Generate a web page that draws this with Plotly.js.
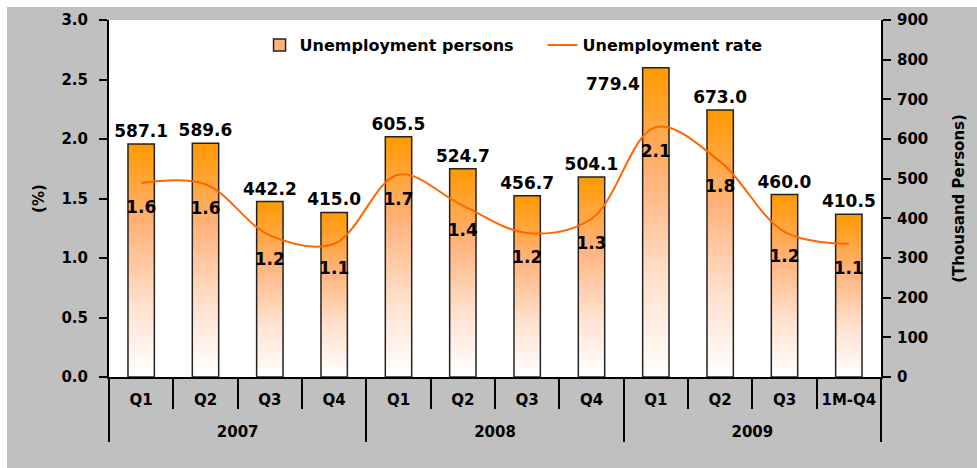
<!DOCTYPE html>
<html>
<head>
<meta charset="utf-8">
<script src="https://cdn.plot.ly/plotly-3.0.1.min.js"></script>
<style>
  html, body { margin: 0; padding: 0; background: #ffffff; }
  #chart { position: absolute; left: 7px; top: 7px; width: 970px; height: 461px; }
</style>
</head>
<body>
<svg width="0" height="0" style="position:absolute">
  <defs>
    <linearGradient id="barGrad" x1="0" y1="0" x2="0" y2="1">
      <stop offset="0" stop-color="#ff9900"/>
      <stop offset="0.35" stop-color="#ffb27a"/>
      <stop offset="0.7" stop-color="#ffe2d0"/>
      <stop offset="1" stop-color="#ffffff"/>
    </linearGradient>
  </defs>
</svg>
<div id="chart"></div>
<script>
const years = ['2007','2007','2007','2007','2008','2008','2008','2008','2009','2009','2009','2009'];
const quarters = ['Q1','Q2','Q3','Q4','Q1','Q2','Q3','Q4','Q1','Q2','Q3','1M-Q4'];
const unemployedPersons = [587.1, 589.6, 442.2, 415.0, 605.5, 524.7, 456.7, 504.1, 779.4, 673.0, 460.0, 410.5];
const unemploymentRate = [1.63, 1.62, 1.19, 1.12, 1.70, 1.44, 1.21, 1.33, 2.10, 1.81, 1.22, 1.12];

const FONT = 'DejaVu Sans, Verdana, sans-serif';
const boldFont = (size) => ({ family: FONT, size: size, color: '#000000', weight: 'bold' });

// year labels get an empty first line so that the year row sits lower, as in the reference
const yearTicks = years.map(y => '<br>' + y);

// the tallest bar's label sits beside the bar (as in the reference) so it clears the legend
const peakIndex = unemployedPersons.indexOf(Math.max(...unemployedPersons));
const barTextPos = unemployedPersons.map((v, i) => i === peakIndex ? 'none' : 'outside');

const traces = [
  {
    type: 'bar',
    name: 'Unemployment persons',
    x: [yearTicks, quarters],
    y: unemployedPersons,
    yaxis: 'y',
    width: 0.41,
    marker: { color: '#ffb27a', line: { color: '#222222', width: 1.5 } },
    texttemplate: '%{y:.1f}',
    textposition: barTextPos,
    constraintext: 'none',
    textfont: boldFont(17),
    cliponaxis: false,
    hoverinfo: 'skip'
  },
  {
    type: 'scatter',
    name: 'Unemployment rate',
    x: [yearTicks, quarters],
    y: unemploymentRate,
    yaxis: 'y2',
    mode: 'lines+markers+text',
    line: { color: '#ff6600', width: 2, shape: 'spline', smoothing: 1 },
    marker: { size: 26, color: 'rgba(0,0,0,0)' },
    texttemplate: '%{y:.1f}',
    textposition: 'bottom center',
    textfont: boldFont(17),
    cliponaxis: false,
    hoverinfo: 'skip'
  }
];

const layout = {
  width: 970,
  height: 461,
  paper_bgcolor: '#c0c0c0',
  plot_bgcolor: '#ffffff',
  margin: { l: 102, r: 96, t: 13, b: 91 },
  showlegend: true,
  legend: {
    orientation: 'h',
    x: 0.195, xanchor: 'left',
    y: 0.977, yanchor: 'top',
    bgcolor: 'rgba(0,0,0,0)',
    font: boldFont(16),
    entrywidth: 238,
    entrywidthmode: 'pixels'
  },
  annotations: [{
    xref: 'x', yref: 'y',
    x: peakIndex, y: unemployedPersons[peakIndex],
    text: unemployedPersons[peakIndex].toFixed(1),
    showarrow: false,
    xanchor: 'right', yanchor: 'middle',
    xshift: -14, yshift: -16,
    font: boldFont(17)
  }],
  bargap: 0.59,
  xaxis: {
    type: 'multicategory',
    range: [-0.5, 11.5],
    autorange: false,
    showline: true, linecolor: '#000000', linewidth: 2,
    ticks: 'outside', tickson: 'boundaries', ticklen: 30, tickwidth: 2, tickcolor: '#000000',
    tickangle: 0,
    ticklabelstandoff: 8,
    showdividers: true, dividercolor: '#000000', dividerwidth: 2,
    tickfont: boldFont(15),
    showgrid: false,
    zeroline: false
  },
  yaxis: {
    side: 'right',
    range: [0, 900],
    dtick: 100,
    tickformat: 'd',
    showline: true, linecolor: '#000000', linewidth: 2,
    ticks: 'outside', ticklen: 8, tickwidth: 2, tickcolor: '#000000',
    ticklabelstandoff: 3,
    tickfont: boldFont(15),
    showgrid: false, zeroline: false,
    title: { text: '(Thousand Persons)', font: boldFont(15), standoff: 26 }
  },
  yaxis2: {
    overlaying: 'y',
    side: 'left',
    range: [0, 3],
    dtick: 0.5,
    tickformat: '.1f',
    showline: true, linecolor: '#000000', linewidth: 2,
    ticks: 'outside', ticklen: 8, tickwidth: 2, tickcolor: '#000000',
    ticklabelstandoff: 8,
    tickfont: boldFont(15),
    showgrid: false, zeroline: false,
    title: { text: '(%)', font: boldFont(15), standoff: 13 }
  }
};

function applyGradient() {
  const gd = document.getElementById('chart');
  gd.querySelectorAll('.barlayer .point path').forEach(p => { p.style.fill = 'url(#barGrad)'; p.style.fillOpacity = 1; });
  gd.querySelectorAll('.legend path.legendbar').forEach(p => { p.style.fill = 'url(#barGrad)'; });
}

Plotly.newPlot('chart', traces, layout, { staticPlot: true, displayModeBar: false }).then(gd => {
  applyGradient();
  gd.on('plotly_afterplot', applyGradient);
});
</script>
</body>
</html>
